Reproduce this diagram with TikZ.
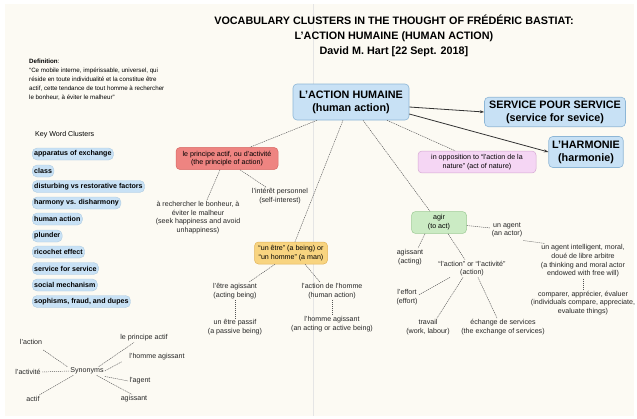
\documentclass[tikz,border=0pt]{standalone}
\usepackage{fontspec}
\setmainfont{Liberation Sans}
\usetikzlibrary{arrows.meta}
\definecolor{cream}{HTML}{FCFAF3}
\definecolor{bluef}{HTML}{C8E1F5}
\definecolor{blued}{HTML}{8DB6D6}
\definecolor{redf}{HTML}{EE8481}
\definecolor{redd}{HTML}{D86A66}
\definecolor{orf}{HTML}{F8D480}
\definecolor{ord}{HTML}{E2B45A}
\definecolor{pinkf}{HTML}{F5D6F4}
\definecolor{pinkd}{HTML}{D5A8D3}
\definecolor{greenf}{HTML}{CBEBC4}
\definecolor{greend}{HTML}{9DCB95}
\definecolor{linec}{HTML}{555555}
\tikzset{
  small/.style={font=\fontsize{7.1}{8.7}\selectfont, align=center, text=black!85, inner sep=1pt},
  bigbox/.style={font=\fontsize{10.8}{13}\selectfont\bfseries, align=center, rounded corners=4pt, draw=blued, fill=bluef, line width=0.6pt},
  colbox/.style={font=\fontsize{7.1}{8.7}\selectfont, align=center, rounded corners=4pt, line width=0.5pt},
  pill/.style={font=\fontsize{7.1}{8}\selectfont\bfseries, anchor=west, rounded corners=5pt, draw=blued!70, fill=bluef, line width=0.4pt, minimum height=12pt, inner xsep=2pt, inner ysep=1pt},
  dl/.style={dash pattern=on 1.2pt off 0.8pt, draw=linec, line width=0.45pt},
  arr/.style={-{Stealth[length=4.5pt,width=3pt]}, draw=black!80, line width=0.8pt},
}
\begin{document}
\begin{tikzpicture}[x=1pt,y=-1pt]
\useasboundingbox (0,0) rectangle (637,418);
\fill[white] (0,0) rectangle (637,418);
\fill[cream] (5,4) rectangle (634,416);
\draw[black!10, line width=0.8pt] (313,4) -- (313,416);

% title
\node[font=\fontsize{10.8}{15}\selectfont\bfseries, align=center] (title) at (394,36)
  {VOCABULARY CLUSTERS IN THE THOUGHT OF FRÉDÉRIC BASTIAT:\\L’ACTION HUMAINE (HUMAN ACTION)\\David M. Hart [22 Sept. 2018]};

% definition
\node[font=\fontsize{6.2}{9}\selectfont, align=left, anchor=north west, inner sep=0pt] (def) at (29,59)
  {\textbf{Definition}:\\“Ce mobile interne, impérissable, universel, qui\\réside en toute individualité et la constitue être\\actif, cette tendance de tout homme à rechercher\\le bonheur, à éviter le malheur”};

% key words
\node[font=\fontsize{7.1}{8}\selectfont, anchor=west, inner sep=0pt] (kwc) at (35,135) {Key Word Clusters};
\node[pill] (k1) at (32,154) {apparatus of exchange};
\node[pill] (k2) at (32,171) {class};
\node[pill] (k3) at (32,186.5) {disturbing vs restorative factors};
\node[pill] (k4) at (32,203) {harmony vs. disharmony};
\node[pill] (k5) at (32,219) {human action};
\node[pill] (k6) at (32,236) {plunder};
\node[pill] (k7) at (32,252) {ricochet effect};
\node[pill] (k8) at (32,268.5) {service for service};
\node[pill] (k9) at (32,285) {social mechanism};
\node[pill] (k10) at (32,301.5) {sophisms, fraud, and dupes};

% synonyms
\node[small] (syn) at (87,371) {Synonyms};
\node[small] (s1) at (31,342) {l’action};
\node[small] (s2) at (28,372) {l’activité};
\node[small] (s3) at (33,399) {actif};
\node[small] (s4) at (144,338) {le principe actif};
\node[small] (s5) at (157,357) {l’homme agissant};
\node[small] (s6) at (140,381) {l’agent};
\node[small] (s7) at (134,399) {agissant};
\draw[dl] ([xshift=-2pt]syn.north west) -- ([xshift=12pt,yshift=-4pt]s1.south);
\draw[dl] (syn.west) -- (s2.east);
\draw[dl] ([xshift=4pt]syn.south west) -- ([xshift=6pt]s3.north);
\draw[dl] ([xshift=-6pt]syn.north east) -- ([xshift=-10pt]s4.south);
\draw[dl] (syn.east) -- ([xshift=-6pt]s5.south west);
\draw[dl] ([yshift=-1pt]syn.south east) -- (s6.west);
\draw[dl] ([xshift=-8pt]syn.south east) -- ([xshift=-2pt]s7.north);

% main
\node[bigbox, minimum width=116pt, minimum height=36pt] (main) at (351,102) {L’ACTION HUMAINE\\(human action)};
\node[bigbox, minimum width=141pt, minimum height=26pt] (serv) at (555,112) {SERVICE POUR SERVICE\\(service for sevice)};
\node[bigbox, minimum width=73pt, minimum height=31pt] (harm) at (586,152) {L’HARMONIE\\(harmonie)};
\draw[arr] ([yshift=-5pt]main.east) -- (serv.west);
\draw[arr] ([yshift=-12pt]main.east) -- (harm.west);

% principe actif
\node[colbox, fill=redf, draw=redd, minimum width=102pt, minimum height=21pt] (prin) at (227,158.5) {le principe actif, ou d’activité\\(the principle of action)};
\node[small] (bonh) at (198,217.5) {à rechercher le bonheur, à\\éviter le malheur\\(seek happiness and avoid\\unhappiness)};
\node[small] (inter) at (280,196) {l’intérêt personnel\\(self-interest)};
\draw[dl] ([xshift=-34pt]main.south) -- ([xshift=23pt]prin.north);
\draw[dl] ([xshift=-7pt]prin.south) -- ([xshift=9pt]bonh.north);
\draw[dl] ([xshift=13pt]prin.south) -- ([xshift=-14pt]inter.north);

% un etre
\node[colbox, fill=orf, draw=ord, minimum width=73pt, minimum height=20pt] (etre) at (291,253) {“un être” (a being) or\\“un homme” (a man)};
\node[small] (eag) at (235,291) {l’être agissant\\(acting being)};
\node[small] (epas) at (235,327) {un être passif\\(a passive being)};
\node[small] (acth) at (332,291) {l’action de l’homme\\(human action)};
\node[small] (hag) at (332,324.5) {l’homme agissant\\(an acting or active being)};
\draw[dl] ([xshift=-8pt]main.south) -- ([xshift=4pt]etre.north);
\draw[dl] ([xshift=-16pt]etre.south) -- ([xshift=14pt]eag.north);
\draw[dl] (eag.south) -- (epas.north);
\draw[dl] ([xshift=14pt]etre.south) -- ([xshift=-12pt]acth.north);
\draw[dl] (acth.south) -- (hag.north);

% opposition
\node[colbox, fill=pinkf, draw=pinkd, minimum width=118pt, minimum height=20pt] (oppo) at (477,162) {in opposition to “l’action de la\\nature” (act of nature)};
\draw[dl] ([xshift=36pt]main.south) -- ([xshift=-22pt]oppo.north);

% agir
\node[colbox, fill=greenf, draw=greend, minimum width=55pt, minimum height=20pt] (agir) at (439,222.5) {agir\\(to act)};
\draw[dl] ([xshift=12pt]main.south) -- ([xshift=-9pt]agir.north);
\node[small] (agent) at (507,230) {un agent\\(an actor)};
\node[small] (agint) at (583,261) {un agent intelligent, moral,\\doué de libre arbitre\\(a thinking and moral actor\\endowed with free will)};
\node[small] (comp) at (583,303) {comparer, apprécier, évaluer\\(individuals compare, appreciate,\\evaluate things)};
\draw[dl] ([yshift=-3pt]agir.east) -- ([yshift=2pt]agent.west);
\draw[dl] ([yshift=-2pt]agent.south east) -- ([xshift=-38pt]agint.north);
\draw[dl] (agint.south) -- (comp.north);
\node[small] (agis) at (410,257) {agissant\\(acting)};
\node[small] (lact) at (472,268.5) {“l’action” or “l’activité”\\(action)};
\draw[dl] ([xshift=-14pt]agir.south) -- ([xshift=8pt]agis.north);
\draw[dl] ([xshift=9pt]agir.south) -- ([xshift=-7pt]lact.north);
\node[small] (eff) at (407,297) {l’effort\\(effort)};
\node[small] (trav) at (428,327) {travail\\(work, labour)};
\node[small] (ech) at (503,327) {échange de services\\(the exchange of services)};
\draw[dl] ([xshift=-22pt]lact.south) -- ([yshift=2pt]eff.east);
\draw[dl] ([xshift=-9pt]lact.south) -- ([xshift=9pt]trav.north);
\draw[dl] ([xshift=6pt]lact.south) -- ([xshift=-6pt]ech.north);
\end{tikzpicture}
\end{document}
